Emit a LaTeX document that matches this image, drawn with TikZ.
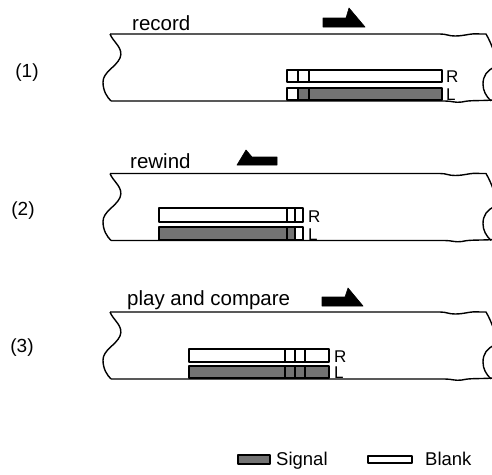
\documentclass[tikz,border=0pt]{standalone}
\usepackage{fontspec}
\setmainfont{Liberation Sans}
\begin{document}
\begin{tikzpicture}[x=1pt,y=-1pt,line join=round,
  tapeline/.style={line width=1.4pt},
  cellw/.style={draw,line width=1.3pt,fill=white},
  cellg/.style={draw,line width=1.3pt,fill=black!55},
  arrowshape/.style={fill=black,draw=black,line width=0.6pt},
  title/.style={anchor=base west,inner sep=0pt,font=\fontsize{20.5}{22}\selectfont},
  num/.style={inner sep=0pt,font=\fontsize{19}{20}\selectfont},
  chan/.style={anchor=base west,inner sep=0pt,font=\fontsize{17}{18}\selectfont},
  legtext/.style={anchor=base west,inner sep=0pt,font=\fontsize{18.5}{20}\selectfont}]
\useasboundingbox (0,0) rectangle (492,474);
\clip (0,0) rectangle (492,474);
\fill[white] (0,0) rectangle (492,474);

% tape outline macro (local top = 0, bottom = 67)
\newcommand\tapeoutline{%
  \draw[tapeline] (110,0) -- (440,0) .. controls (447,0) and (448,2) .. (455,2)
     .. controls (465,2) and (470,-1) .. (480,0) -- (486,0)
     .. controls (489,5) and (492,12) .. (494,18);
  \draw[tapeline] (110,0) .. controls (113,8) and (124,14) .. (120,24)
     .. controls (116,33) and (103,38) .. (103,48)
     .. controls (103,57) and (107,63) .. (111,67);
  \draw[tapeline] (111,67) -- (445,67) .. controls (452,67) and (455,69) .. (462,68)
     .. controls (470,66) and (478,67) .. (494,66);
  \draw[tapeline] (495,33) .. controls (487,36) and (483,42) .. (483,50)
     .. controls (483,57) and (486,62) .. (491,67);
}

% ---------- panel 1 ----------
\node[num] (n1) at (27,73) {(1)};
\node[title] (t1) at (132,30) {record};
\fill[arrowshape] (323,18) -- (346,18) -- (349,8) -- (365,27) -- (323,27) -- cycle;
\begin{scope}[yshift=-34pt]\tapeoutline\end{scope}
\draw[cellw] (287,70) rectangle (298,82);
\draw[cellw] (298,70) rectangle (309,82);
\draw[cellw] (309,70) rectangle (442,82);
\draw[cellw] (287,88) rectangle (298,100);
\draw[cellg] (298,88) rectangle (309,100);
\draw[cellg] (309,88) rectangle (442,100);
\node[chan] (r1) at (446,82) {R};
\node[chan] (l1) at (446,100) {L};

% ---------- panel 2 ----------
\node[num] (n2) at (23,211) {(2)};
\node[title] (t2) at (130,168) {rewind};
\fill[arrowshape] (277,157) -- (252,157) -- (246,150) -- (237,165) -- (277,165) -- cycle;
\begin{scope}[yshift=-173.5pt]\tapeoutline\end{scope}
\draw[cellw] (159,208) rectangle (287,222);
\draw[cellw] (287,208) rectangle (295,222);
\draw[cellw] (295,208) rectangle (303,222);
\draw[cellg] (159,227) rectangle (287,240);
\draw[cellg] (287,227) rectangle (295,240);
\draw[cellw] (295,227) rectangle (303,240);
\node[chan] (r2) at (308,222) {R};
\node[chan] (l2) at (308,240) {L};

% ---------- panel 3 ----------
\node[num] (n3) at (22,348) {(3)};
\node[title] (t3) at (127,305) {play and compare};
\fill[arrowshape] (322,297) -- (345,297) -- (348,288) -- (363,306) -- (322,306) -- cycle;
\begin{scope}[yshift=-312pt]\tapeoutline\end{scope}
\draw[cellw] (189,349) rectangle (285,362);
\draw[cellw] (285,349) rectangle (295,362);
\draw[cellw] (295,349) rectangle (305,362);
\draw[cellw] (305,349) rectangle (329,362);
\draw[cellg] (189,366) rectangle (285,378);
\draw[cellg] (285,366) rectangle (295,378);
\draw[cellg] (295,366) rectangle (305,378);
\draw[cellg] (305,366) rectangle (329,378);
\node[chan] (r3) at (334,362) {R};
\node[chan] (l3) at (334,378) {L};

% ---------- legend ----------
\draw[cellg] (238,455) rectangle (270,464);
\node[legtext] (sig) at (276,465) {Signal};
\draw[cellw] (368,456) rectangle (412,463);
\node[legtext] (blk) at (425,465) {Blank};
\end{tikzpicture}
\end{document}
